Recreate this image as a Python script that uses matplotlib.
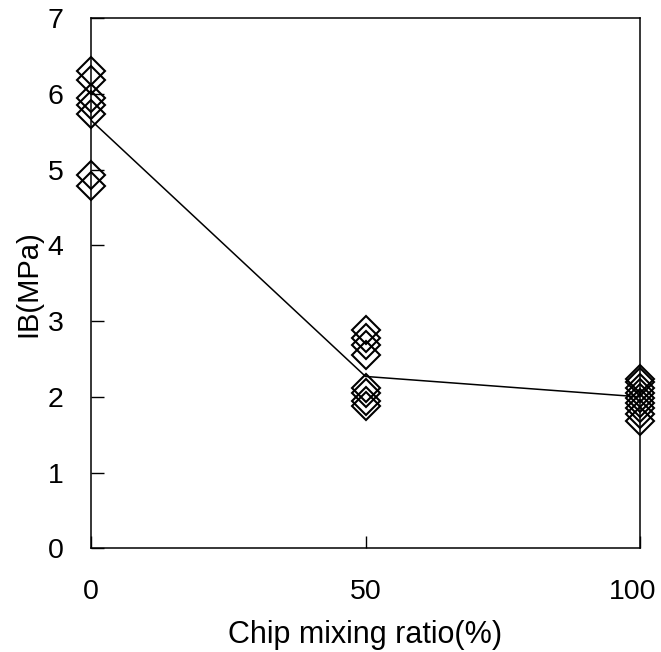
import matplotlib
matplotlib.use("Agg")
import matplotlib.pyplot as plt
from matplotlib.transforms import ScaledTranslation

# ---- data ----
x_categories = [0, 50, 100]
ib_at_0 = [6.31, 6.18, 5.95, 5.85, 5.74, 4.93, 4.79]
ib_at_50 = [2.88, 2.78, 2.69, 2.55, 2.12, 2.05, 1.95, 1.88]
ib_at_100 = [2.24, 2.20, 2.12, 2.05, 1.98, 1.92, 1.85, 1.78, 1.68]
mean_line = [5.65, 2.27, 2.00]
x_ticks = [0, 50, 100]
y_ticks = [0, 1, 2, 3, 4, 5, 6, 7]

plt.rcParams["font.family"] = ["Liberation Sans", "DejaVu Sans"]

fig = plt.figure(figsize=(6.61, 6.52), dpi=100)
ax = fig.add_axes([0.138, 0.159, 0.830, 0.813])

ax.plot(x_categories, mean_line, color="black", lw=1.1, zorder=2)
for xv, vals in zip(x_categories, [ib_at_0, ib_at_50, ib_at_100]):
    ax.plot([xv] * len(vals), vals, linestyle="none", marker="D", markersize=14,
            markerfacecolor="none", markeredgecolor="black", markeredgewidth=1.5,
            clip_on=False, zorder=3)

ax.set_xlim(0, 100)
ax.set_ylim(0, 7)
ax.set_xticks(x_ticks)
ax.set_yticks(y_ticks)
ax.tick_params(direction="in", length=9, width=1, labelsize=20.5)
ax.tick_params(axis="x", pad=22)
ax.tick_params(axis="y", pad=20)
for s in ax.spines.values():
    s.set_linewidth(1.1)

# keep the last x tick label inside the canvas
last = ax.get_xticklabels()[-1]
last.set_transform(last.get_transform() + ScaledTranslation(-5 / 72, 0, fig.dpi_scale_trans))

ax.set_xlabel("Chip mixing ratio(%)", fontsize=22, labelpad=11)
ax.set_ylabel("IB(MPa)", fontsize=21, labelpad=4)

fig.savefig("out.png", dpi=100)
